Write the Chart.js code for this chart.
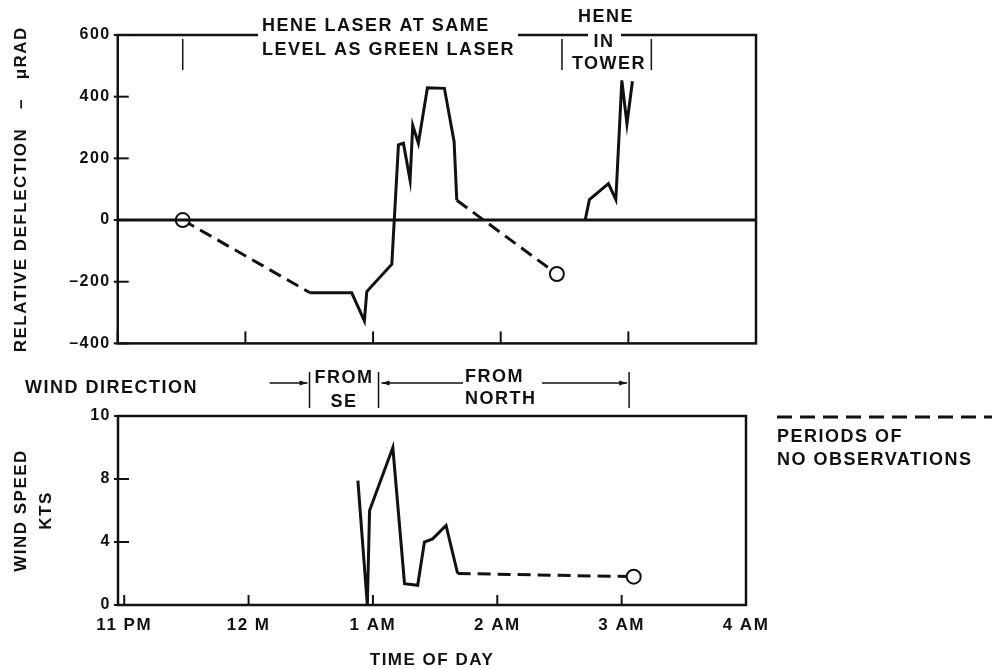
<!DOCTYPE html>
<html>
<head>
<meta charset="utf-8">
<script src="https://cdn.jsdelivr.net/npm/chart.js@4.4.0/dist/chart.umd.min.js"></script>
<style>
  body { margin: 0; background: #fff; }
  #wrap { position: relative; width: 992px; height: 669px; }
  canvas { position: absolute; left: 0; }
</style>
</head>
<body>
<div id="wrap">
  <canvas id="top" width="992" height="360" style="top:0"></canvas>
  <canvas id="bottom" width="992" height="309" style="top:360px"></canvas>
</div>
<script>
// time is in hours after 11 PM
var timeLabels = ['11 PM', '12 M', '1 AM', '2 AM', '3 AM', '4 AM'];
var windTicks = [0, 4, 8, 10];

// relative deflection, microradians
var deflTimeA = [1.507, 1.833, 1.932, 1.951, 2.147, 2.199, 2.238, 2.290, 2.311, 2.355, 2.426, 2.559, 2.635, 2.656];
var deflA     = [-236, -236, -327, -232, -143, 244, 249, 129, 307, 249, 429, 427, 254, 64];
var deflTimeB = [3.662, 3.695, 3.844, 3.902, 3.949, 3.989, 4.032];
var deflB     = [0, 66, 118, 66, 453, 312, 450];
var gapTime1  = [0.509, 1.507];
var gap1      = [0, -236];
var gapTime2  = [2.656, 3.440];
var gap2      = [64, -175];
var zeroTime  = [0, 5];
var zeroLine  = [0, 0];

// wind speed, knots
var windTime    = [1.879, 1.955, 1.973, 2.160, 2.254, 2.360, 2.414, 2.480, 2.588, 2.681];
var windSpeed   = [7.9, 0, 6, 9, 1.35, 1.25, 4.0, 4.2, 5.05, 2.0];
var windGapTime = [2.681, 4.097];
var windGap     = [2.0, 1.8];

// period boundaries
var laserMarks = [0.509, 3.48, 4.18];
var windMarks  = [1.49, 2.045, 4.06];

var INK = '#111';
var FONT = '"Liberation Sans", Arial, sans-serif';
Chart.defaults.font.family = FONT;
Chart.defaults.font.weight = 'bold';
Chart.defaults.color = INK;

// wind axis: 0-8 takes two thirds of the height, 8-10 the last third
class WindScale extends Chart.LinearScale {
  getPixelForValue(v) {
    var f = v <= 8 ? v / 12 : 2 / 3 + (v - 8) / 6;
    return this.bottom - f * (this.bottom - this.top);
  }
  getValueForPixel(p) {
    var f = (this.bottom - p) / (this.bottom - this.top);
    return f <= 2 / 3 ? f * 12 : 8 + (f - 2 / 3) * 6;
  }
}
WindScale.id = 'wind';
WindScale.defaults = Chart.LinearScale.defaults;
Chart.register(WindScale);

function seg(xs, ys, dashed, radii) {
  return {
    data: xs.map(function(x, i) { return { x: x, y: ys[i] }; }),
    borderColor: INK,
    borderWidth: 3,
    borderDash: dashed ? [13, 7] : [],
    pointRadius: radii || 0,
    pointBackgroundColor: '#fff',
    pointBorderColor: INK,
    pointBorderWidth: 2,
    tension: 0,
    fill: false
  };
}

var spacing = {
  id: 'spacing',
  beforeUpdate: function(c) { c.ctx.letterSpacing = '1.5px'; },
  beforeDraw: function(c) { c.ctx.letterSpacing = '1.5px'; }
};

function text(ctx, s, x, y, align) {
  ctx.font = 'bold 18px ' + FONT;
  ctx.letterSpacing = '1.5px';
  ctx.fillStyle = INK;
  ctx.textAlign = align || 'center';
  ctx.textBaseline = 'middle';
  ctx.fillText(s, x, y);
}

function line(ctx, x1, y1, x2, y2, w) {
  ctx.lineWidth = w || 1.5;
  ctx.strokeStyle = INK;
  ctx.beginPath();
  ctx.moveTo(x1, y1);
  ctx.lineTo(x2, y2);
  ctx.stroke();
}

function arrow(ctx, x, y, dir) {
  ctx.fillStyle = INK;
  ctx.beginPath();
  ctx.moveTo(x, y);
  ctx.lineTo(x - dir * 8, y - 2.5);
  ctx.lineTo(x - dir * 8, y + 2.5);
  ctx.closePath();
  ctx.fill();
}

function frameAndTicks(chart, yTickLen, xTickLen) {
  var ctx = chart.ctx, a = chart.chartArea, xs = chart.scales.x, ys = chart.scales.y;
  ctx.save();
  ctx.lineWidth = 2.5;
  ctx.strokeStyle = INK;
  ctx.strokeRect(a.left, a.top, a.right - a.left, a.bottom - a.top);
  ys.ticks.forEach(function(t) {
    var p = ys.getPixelForValue(t.value);
    line(ctx, a.left - 4, p, a.left + yTickLen, p, 2);
  });
  xs.ticks.forEach(function(t) {
    var p = xs.getPixelForValue(t.value);
    line(ctx, p, a.bottom, p, a.bottom - xTickLen, 2);
  });
  ctx.restore();
}

var topDecor = {
  id: 'topDecor',
  afterDraw: function(chart) {
    var ctx = chart.ctx, a = chart.chartArea, xs = chart.scales.x;
    frameAndTicks(chart, 11, 12);
    ctx.save();
    ctx.fillStyle = '#fff';
    ctx.fillRect(258, 28, 260, 14);
    ctx.fillRect(588, 28, 33, 14);
    laserMarks.forEach(function(h) {
      var p = xs.getPixelForValue(h);
      line(ctx, p, a.top + 4, p, a.top + 35, 1.5);
    });
    text(ctx, 'HENE LASER AT SAME', 262, 26, 'left');
    text(ctx, 'LEVEL AS GREEN LASER', 262, 50, 'left');
    text(ctx, 'HENE', 606, 17);
    text(ctx, 'IN', 604, 42);
    text(ctx, 'TOWER', 609, 64);
    ctx.restore();
  }
};

var bottomDecor = {
  id: 'bottomDecor',
  afterDraw: function(chart) {
    var ctx = chart.ctx, xs = chart.scales.x;
    frameAndTicks(chart, 11, 10);
    ctx.save();
    var b = windMarks.map(function(h) { return xs.getPixelForValue(h); });
    var ay = 23;
    b.forEach(function(p) { line(ctx, p, 12, p, 48, 1.5); });
    text(ctx, 'WIND DIRECTION', 25, 28, 'left');
    line(ctx, b[0] - 40, ay, b[0] - 2, ay);
    arrow(ctx, b[0] - 2, ay, 1);
    text(ctx, 'FROM', (b[0] + b[1]) / 2, 18);
    text(ctx, 'SE', (b[0] + b[1]) / 2, 42);
    line(ctx, b[1] + 3, ay, 463, ay);
    arrow(ctx, b[1] + 3, ay, -1);
    text(ctx, 'FROM', 465, 17, 'left');
    text(ctx, 'NORTH', 465, 39, 'left');
    line(ctx, 542, ay, b[2] - 2, ay);
    arrow(ctx, b[2] - 2, ay, 1);
    // legend
    ctx.setLineDash([15, 8]);
    line(ctx, 777, 57, 992, 57, 3);
    ctx.setLineDash([]);
    text(ctx, 'PERIODS OF', 777, 77, 'left');
    text(ctx, 'NO OBSERVATIONS', 777, 100, 'left');
    ctx.restore();
  }
};

var tickFont = { size: 16, weight: 'bold' };
var titleFont = { size: 17, weight: 'bold' };

new Chart(document.getElementById('top'), {
  type: 'line',
  data: {
    datasets: [
      seg(zeroTime, zeroLine, false),
      seg(deflTimeA, deflA, false),
      seg(deflTimeB, deflB, false),
      seg(gapTime1, gap1, true, [7, 0]),
      seg(gapTime2, gap2, true, [0, 7])
    ]
  },
  options: {
    responsive: false,
    animation: false,
    events: [],
    layout: { padding: { left: 0, top: 35, right: 236, bottom: 8 } },
    plugins: { legend: { display: false }, tooltip: { enabled: false } },
    scales: {
      x: {
        type: 'linear', min: 0, max: 5,
        ticks: { display: false, stepSize: 1 },
        grid: { display: false, drawTicks: false },
        border: { display: false },
        afterFit: function(s) { s.height = 0; }
      },
      y: {
        min: -400, max: 600,
        ticks: {
          stepSize: 200, padding: 7, font: tickFont,
          callback: function(v) { return v < 0 ? '\u2013' + Math.abs(v) : String(v); }
        },
        grid: { display: false, drawTicks: false },
        border: { display: false },
        title: { display: true, text: 'RELATIVE DEFLECTION   \u2013   \u03bcRAD', font: titleFont, padding: { top: 11 } },
        afterFit: function(s) { s.width = 117.75; }
      }
    }
  },
  plugins: [spacing, topDecor]
});

new Chart(document.getElementById('bottom'), {
  type: 'line',
  data: {
    datasets: [
      seg(windTime, windSpeed, false),
      seg(windGapTime, windGap, true, [0, 7])
    ]
  },
  options: {
    responsive: false,
    animation: false,
    events: [],
    layout: { padding: { left: 0, top: 56, right: 246, bottom: 0 } },
    plugins: { legend: { display: false }, tooltip: { enabled: false } },
    scales: {
      x: {
        type: 'linear', min: -0.05, max: 5,
        afterBuildTicks: function(s) { s.ticks = timeLabels.map(function(t, i) { return { value: i }; }); },
        ticks: {
          padding: 10, font: { size: 17, weight: 'bold' }, autoSkip: false, maxRotation: 0,
          callback: function(v, i) { return timeLabels[i]; }
        },
        grid: { display: false, drawTicks: false },
        border: { display: false },
        title: { display: true, text: 'TIME OF DAY', font: { size: 17, weight: 'bold', lineHeight: 1 }, padding: { top: 0, bottom: 0.5 } },
        afterFit: function(s) { s.height = 64; }
      },
      y: {
        type: 'wind', min: 0, max: 10,
        afterBuildTicks: function(s) { s.ticks = windTicks.map(function(v) { return { value: v }; }); },
        ticks: { padding: 7, font: tickFont },
        grid: { display: false, drawTicks: false },
        border: { display: false },
        title: { display: true, text: ['WIND SPEED', 'KTS'], font: { size: 17, weight: 'bold', lineHeight: 1.47 }, padding: { top: 8.5 } },
        afterFit: function(s) { s.width = 118; }
      }
    }
  },
  plugins: [spacing, bottomDecor]
});
</script>
</body>
</html>
